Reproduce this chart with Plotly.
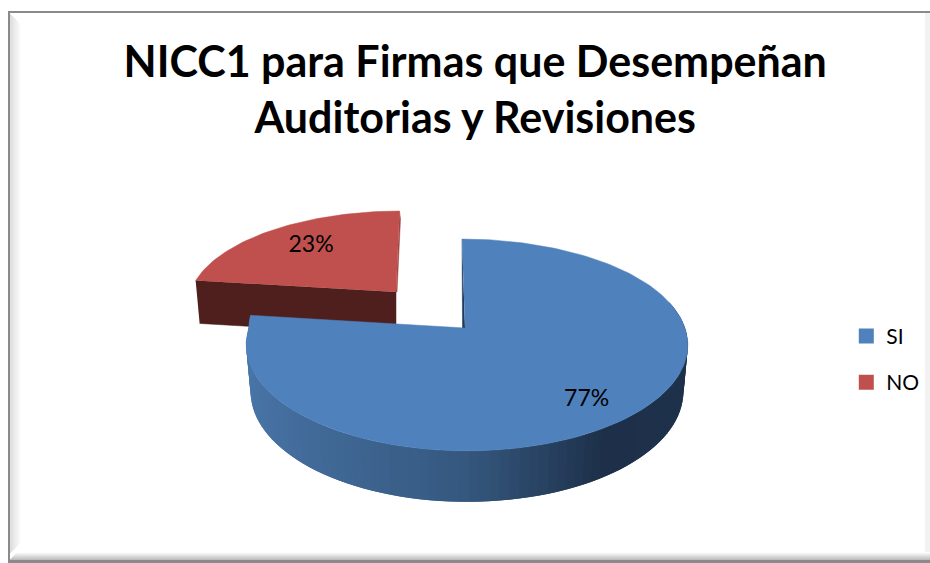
import numpy as np
import plotly.graph_objects as go

# datos
categories = ['SI', 'NO']
values = [77, 23]
colors = ['#4F81BD', '#C0504D']
title_text = 'NICC1 para Firmas que Desempeñan<br>Auditorias y Revisiones'

WIDTH, HEIGHT = 930, 563
shares = np.array(values) / sum(values)
blue_end = 2 * np.pi * shares[0]


def project(theta, apex, scale=1.0, yscale=1.0, lean=0.0, center_dx=0.0, radius=1.0, corner=0.0):
    # proyeccion en perspectiva de un punto del disco (theta en sentido horario desde arriba)
    u = radius * np.sin(theta)
    v = radius * np.cos(theta)
    w = 1 + 0.16 * v
    x = apex[0] + center_dx * radius + scale * 218 * u / w + lean * np.clip(v, 0, 1) ** 4
    x = x - corner * np.clip(v * 6, 0, 1) * np.clip(-u, 0, 1)
    y = apex[1] - yscale * 103.2 * v / w
    return x, y


def poly(xs, ys, color, line=0.5):
    return go.Scatter(x=list(xs), y=list(ys), mode='lines', fill='toself', fillcolor=color,
                      line=dict(color=color, width=line), hoverinfo='skip', showlegend=False)


def side_color(t):
    stops = [(-1.0, (74, 118, 169)), (0.0, (53, 88, 127)), (0.55, (30, 48, 73)), (1.0, (30, 50, 76))]
    xs = [s[0] for s in stops]
    rgb = [np.interp(t, xs, [s[1][i] for s in stops]) for i in range(3)]
    return 'rgb(%d,%d,%d)' % tuple(rgb)


fig = go.Figure()

# porcion NO, separada del resto
no_apex = (396, 292)
no_th = np.linspace(blue_end, 2 * np.pi, 60)
no_x, no_y = project(no_th, no_apex, scale=0.945, yscale=0.91, lean=3.5)
no_depth = 43
fig.add_trace(poly([no_x[0], no_apex[0], no_apex[0], no_x[0] + 4],
                   [no_y[0], no_apex[1], no_apex[1] + no_depth, no_y[0] + no_depth], '#4F1F1D'))
fig.add_trace(poly([no_x[-1], no_x[-1] + 1, no_apex[0] + 1, no_apex[0]],
                   [no_y[-1], no_y[-1] + 8, no_apex[1], no_apex[1]], '#9C4340'))
fig.add_trace(poly(list(no_x) + [no_apex[0]], list(no_y) + [no_apex[1]], colors[1]))

# porcion SI: pared lateral en degradado, cada tramo pisa al siguiente para no dejar juntas
si_apex = (465, 328)
edges = np.linspace(np.radians(75), blue_end, 90)
step = edges[1] - edges[0]
for a in edges[:-1]:
    th = np.minimum(np.linspace(a, a + 2 * step, 4), blue_end)
    xt, yt = project(th, si_apex, center_dx=2, lean=-5, corner=6)
    h = 46 + 5 * np.clip((yt - si_apex[1]) / 123, 0, 1)
    xb = si_apex[0] + 2 + 0.98 * (xt - si_apex[0] - 2)
    yb = yt + h
    fig.add_trace(poly(list(xt) + list(xb[::-1]), list(yt) + list(yb[::-1]),
                       side_color(np.sin(a + step / 2)), line=0))

si_th = np.linspace(0, blue_end, 200)
si_x, si_y = project(si_th, si_apex, center_dx=2, lean=-5, corner=6)
fig.add_trace(poly([si_x[0], si_x[0] + 0.5, si_apex[0]], [si_y[0], si_apex[1], si_apex[1]], '#1F3A5C'))
fig.add_trace(poly(list(si_x) + [si_apex[0]], list(si_y) + [si_apex[1]], colors[0]))

# etiquetas de porcentaje en la mitad de cada porcion
mid = [blue_end / 2, blue_end + (2 * np.pi - blue_end) / 2]
lab_si = project(mid[0], si_apex, center_dx=2, radius=0.78)
lab_no = project(mid[1], no_apex, scale=0.945, yscale=0.91, radius=0.7)
fig.add_trace(go.Scatter(x=[lab_si[0] - 4, lab_no[0] + 3], y=[lab_si[1] + 6, lab_no[1]], mode='text',
                         text=['%d%%' % v for v in values], textposition='middle center',
                         textfont=dict(family='Lato', size=23, color='black'),
                         hoverinfo='skip', showlegend=False))

# leyenda
for name, color in zip(categories, colors):
    fig.add_trace(go.Scatter(x=[None], y=[None], mode='markers', name=name, legendgroup=name,
                             marker=dict(symbol='square', size=15, color=color)))

# marco con bisel
shapes = []
for i in range(10):
    g = 222 + i * 3
    shapes.append(dict(type='rect', x0=10 + i, x1=11 + i, y0=14 + i, y1=553 - i, line_width=0,
                       fillcolor='rgb(%d,%d,%d)' % (g, g, g), layer='below'))
for i in range(8):
    g = 190 + i * 9
    shapes.append(dict(type='rect', x0=10 + i, x1=WIDTH, y0=559 - i, y1=560 - i, line_width=0,
                       fillcolor='rgb(%d,%d,%d)' % (g, g, g), layer='below'))
shapes.append(dict(type='rect', x0=8, x1=WIDTH, y0=11, y1=13, line_width=0, fillcolor='#8A8A8A', layer='below'))
shapes.append(dict(type='rect', x0=8, x1=10, y0=11, y1=HEIGHT, line_width=0, fillcolor='#8A8A8A', layer='below'))
shapes.append(dict(type='rect', x0=8, x1=WIDTH, y0=560, y1=HEIGHT, line_width=0, fillcolor='#8A8A8A', layer='below'))
shapes.append(dict(type='rect', x0=925, x1=WIDTH, y0=13, y1=552, line_width=0, fillcolor='#F2F2F2', layer='below'))

fig.update_layout(
    width=WIDTH, height=HEIGHT, margin=dict(l=0, r=0, t=0, b=0),
    paper_bgcolor='white', plot_bgcolor='rgba(0,0,0,0)',
    xaxis=dict(range=[0, WIDTH], visible=False, fixedrange=True),
    yaxis=dict(range=[HEIGHT, 0], visible=False, fixedrange=True),
    title=dict(text=title_text, x=0.511, xanchor='center', y=0.863, yanchor='middle',
               font=dict(family='Lato', size=43, color='black', weight='bold')),
    legend=dict(x=0.91, y=0.439, xanchor='left', yanchor='top', tracegroupgap=16,
                font=dict(family='Lato', size=21, color='black'), bgcolor='rgba(0,0,0,0)'),
    shapes=shapes,
)

fig.write_html('out.html', config={'displayModeBar': False},
               post_script="document.body.style.margin='0';")
